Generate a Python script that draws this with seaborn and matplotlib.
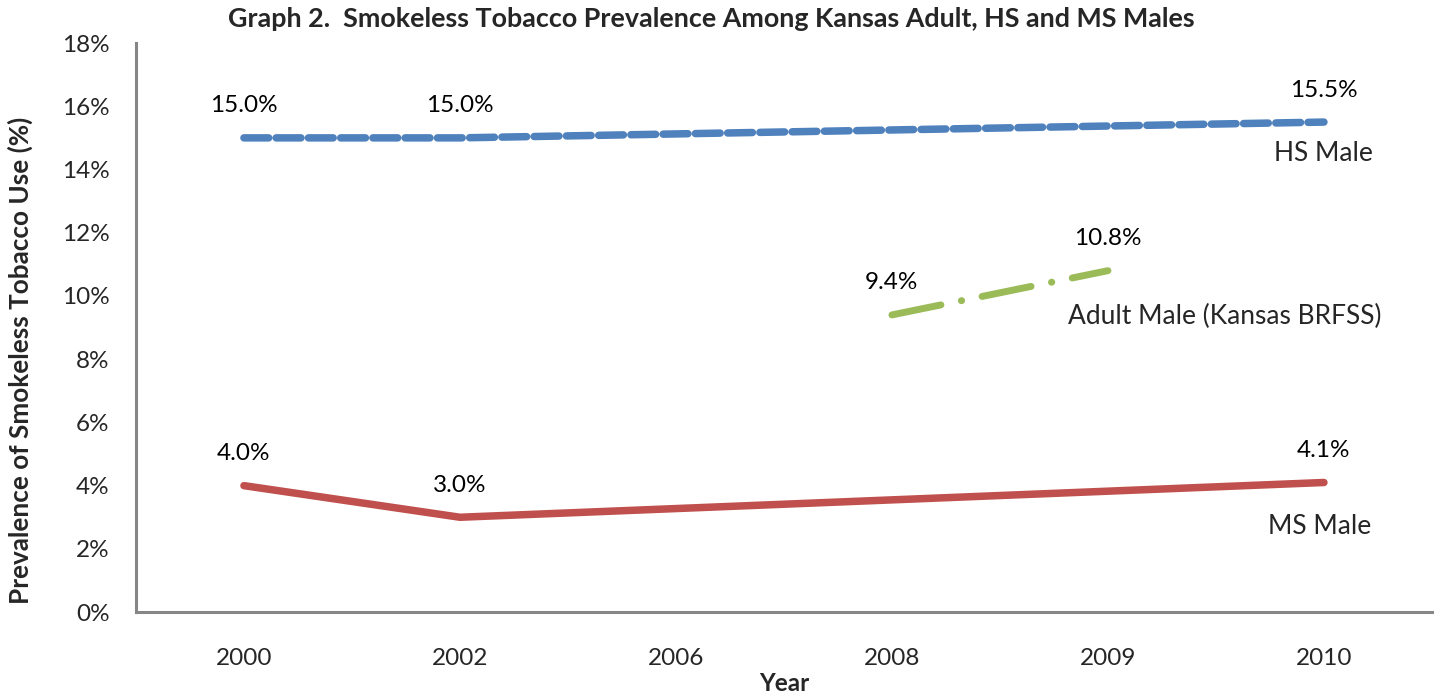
import numpy as np
import pandas as pd
import matplotlib
matplotlib.use("Agg")
import matplotlib.pyplot as plt
import seaborn as sns

# Survey years (shown as evenly spaced categories) and prevalence in percent
years = ["2000", "2002", "2006", "2008", "2009", "2010"]
hs_male = [15.0, 15.0, np.nan, np.nan, np.nan, 15.5]
ms_male = [4.0, 3.0, np.nan, np.nan, np.nan, 4.1]
adult_male = [np.nan, np.nan, np.nan, 9.4, 10.8, np.nan]

series_names = ["HS Male", "Adult Male (Kansas BRFSS)", "MS Male"]
yticks = [0, 2, 4, 6, 8, 10, 12, 14, 16, 18]

sns.set_style("white")
plt.rcParams["font.family"] = ["Lato", "DejaVu Sans"]

df = pd.DataFrame({
    "pos": np.arange(len(years)),
    "year": years,
    "HS Male": hs_male,
    "Adult Male (Kansas BRFSS)": adult_male,
    "MS Male": ms_male,
})
long = df.melt(id_vars=["pos", "year"], var_name="series", value_name="pct").dropna()

styles = {
    "HS Male": dict(color="#4F81BD", lw=5.4, linestyle=(0, (3.3, 1.0))),
    "Adult Male (Kansas BRFSS)": dict(color="#9BBB59", lw=5.0, linestyle=(0, (7.2, 3.0, 0.05, 3.0))),
    "MS Male": dict(color="#C0504D", lw=5.4, linestyle="-"),
}

fig = plt.figure(figsize=(14.4, 6.94), dpi=100)
ax = fig.add_axes([0.0944, 0.118, 0.9, 0.82])

for name in series_names:
    sub = long[long["series"] == name]
    st = styles[name]
    sns.lineplot(data=sub, x="pos", y="pct", ax=ax, color=st["color"],
                 lw=st["lw"], linestyle=st["linestyle"], sort=True,
                 dash_capstyle="round", solid_capstyle="round", legend=False)
    for _, r in sub.iterrows():
        ax.annotate(f"{r['pct']:.1f}%", (r["pos"], r["pct"]), xytext=(0, 23),
                    textcoords="offset points", ha="center", va="center",
                    fontsize=17.5, color="black")

# Series names placed beside their lines
ax.text(5, 14.5, "HS Male", ha="center", va="center", fontsize=19)
ax.text(4.54, 9.35, "Adult Male (Kansas BRFSS)", ha="center", va="center", fontsize=19)
ax.text(4.98, 2.7, "MS Male", ha="center", va="center", fontsize=19)

ax.set_xlim(-0.5, len(years) - 0.5)
ax.set_ylim(0, 18)
ax.set_xticks(np.arange(len(years)))
ax.set_xticklabels(years, fontsize=17.5)
ax.set_yticks(yticks)
ax.set_yticklabels([f"{t}%" for t in yticks], fontsize=17.5)
ax.tick_params(axis="x", length=0, pad=26)
ax.tick_params(axis="y", length=0, pad=19)

sns.despine(ax=ax)
for side in ["left", "bottom"]:
    ax.spines[side].set_color("#868686")
    ax.spines[side].set_linewidth(2.2)

ax.set_xlabel("Year", fontsize=17.5, fontweight="bold", labelpad=2)
ax.set_ylabel("Prevalence of Smokeless Tobacco Use (%)", fontsize=18.8,
              fontweight="bold", va="center")
ax.yaxis.set_label_coords(-0.0895, 0.443)
fig.suptitle("Graph 2.  Smokeless Tobacco Prevalence Among Kansas Adult, HS and MS Males",
             x=0.494, y=0.99, fontsize=19.4, fontweight="bold")

fig.savefig("out.png", dpi=100)
